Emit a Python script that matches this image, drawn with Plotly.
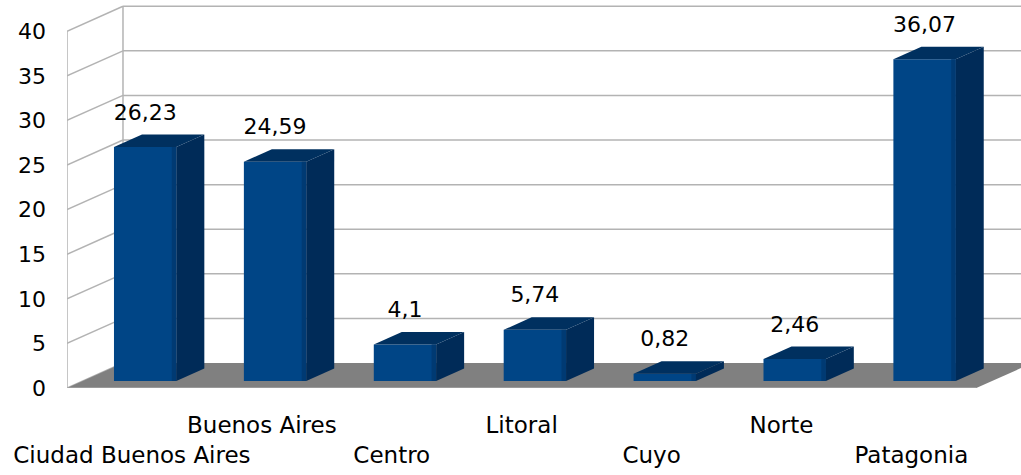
import plotly.graph_objects as go

# ---- data ----
categories = ["Ciudad Buenos Aires", "Buenos Aires", "Centro", "Litoral", "Cuyo", "Norte", "Patagonia"]
values = [26.23, 24.59, 4.1, 5.74, 0.82, 2.46, 36.07]
y_ticks = [0, 5, 10, 15, 20, 25, 30, 35, 40]
y_max = 40

# ---- style / oblique 3D geometry ----
DX = 0.431      # depth offset (category units)
DY = 2.80       # depth offset (value units)
BAR_LEFT = 0.241
BAR_W = 0.48
EDGE_W = 0.035  # darker shading strip on the front face's right edge
D0, D1 = 0.28, 0.78   # bar front/back depth fractions
LABEL_GAP = 2.3
FONT = "DejaVu Sans"
GRID = "#b3b3b3"
FLOOR = "#808080"
FRONT = "#004586"
FRONT_EDGE = "#003a73"
SIDE = "#002b58"
TOP = "#00305f"

n = len(categories)
x_lo, x_hi = -0.5, n - 0.5

fig = go.Figure()

def poly(xs, ys, color, line_color=None, lw=0):
    fig.add_trace(go.Scatter(x=list(xs) + [xs[0]], y=list(ys) + [ys[0]], mode="lines",
                             fill="toself", fillcolor=color,
                             line=dict(color=line_color or color, width=lw),
                             hoverinfo="skip", showlegend=False))

def line(xs, ys, color=GRID, lw=1.5):
    fig.add_trace(go.Scatter(x=xs, y=ys, mode="lines", line=dict(color=color, width=lw),
                             hoverinfo="skip", showlegend=False))

# walls: grid lines
for v in y_ticks:
    if v > 0:
        line([x_lo + DX, x_hi + DX + 1], [v + DY, v + DY])        # back wall
    line([x_lo, x_lo + DX], [v, v + DY])                          # side wall
line([x_lo, x_lo], [0, y_max])
line([x_lo + DX, x_lo + DX], [DY, y_max + DY])

# floor
poly([x_lo, x_hi, x_hi + DX, x_lo + DX], [0, 0, DY, DY], FLOOR)
line([x_lo, x_hi], [0, 0], GRID, 1.2)

# bars
for i, v in enumerate(values):
    xl = i - 0.5 + BAR_LEFT
    xr = xl + BAR_W
    f0x, f1x = D0 * DX, D1 * DX
    f0y, f1y = D0 * DY, D1 * DY
    poly([xl + f0x, xr + f0x, xr + f0x, xl + f0x], [f0y, f0y, v + f0y, v + f0y], FRONT)
    poly([xr - EDGE_W + f0x, xr + f0x, xr + f0x, xr - EDGE_W + f0x],
         [f0y, f0y, v + f0y, v + f0y], FRONT_EDGE)
    poly([xr + f0x, xr + f1x, xr + f1x, xr + f0x], [f0y, f1y, v + f1y, v + f0y], SIDE)
    poly([xl + f0x, xr + f0x, xr + f1x, xl + f1x], [v + f0y, v + f0y, v + f1y, v + f1y], TOP)

# value labels
fig.add_trace(go.Scatter(
    x=[i - 0.5 + BAR_LEFT + BAR_W / 2 + D0 * DX for i in range(n)],
    y=[v + D1 * DY + LABEL_GAP for v in values],
    mode="text", text=[str(v).replace(".", ",") for v in values],
    textposition="middle center", textfont=dict(family=FONT, size=22, color="black"),
    cliponaxis=False, hoverinfo="skip", showlegend=False))

ticktext = [c + "<br> " if i % 2 == 1 else " <br>" + c for i, c in enumerate(categories)]

fig.update_layout(
    width=1021, height=475,
    margin=dict(l=67, r=0, t=0, b=87),
    paper_bgcolor="white", plot_bgcolor="white",
    font=dict(family=FONT, size=22, color="black"),
    xaxis=dict(range=[-0.5, 6.844], tickvals=list(range(n)), ticktext=ticktext,
               showgrid=False, zeroline=False, showline=False, ticks="",
               tickangle=0, automargin=False,
               ticklabelstandoff=21, tickfont=dict(size=23, family=FONT, color="black")),
    yaxis=dict(range=[0, 43.5], tickvals=y_ticks, ticktext=[str(t) for t in y_ticks],
               showgrid=False, zeroline=False, showline=False, ticks="", automargin=False,
               ticklabelstandoff=20, tickfont=dict(size=22, family=FONT, color="black")),
)

fig.write_html("out.html", config={"displayModeBar": False},
               post_script="document.body.style.margin='0';")
